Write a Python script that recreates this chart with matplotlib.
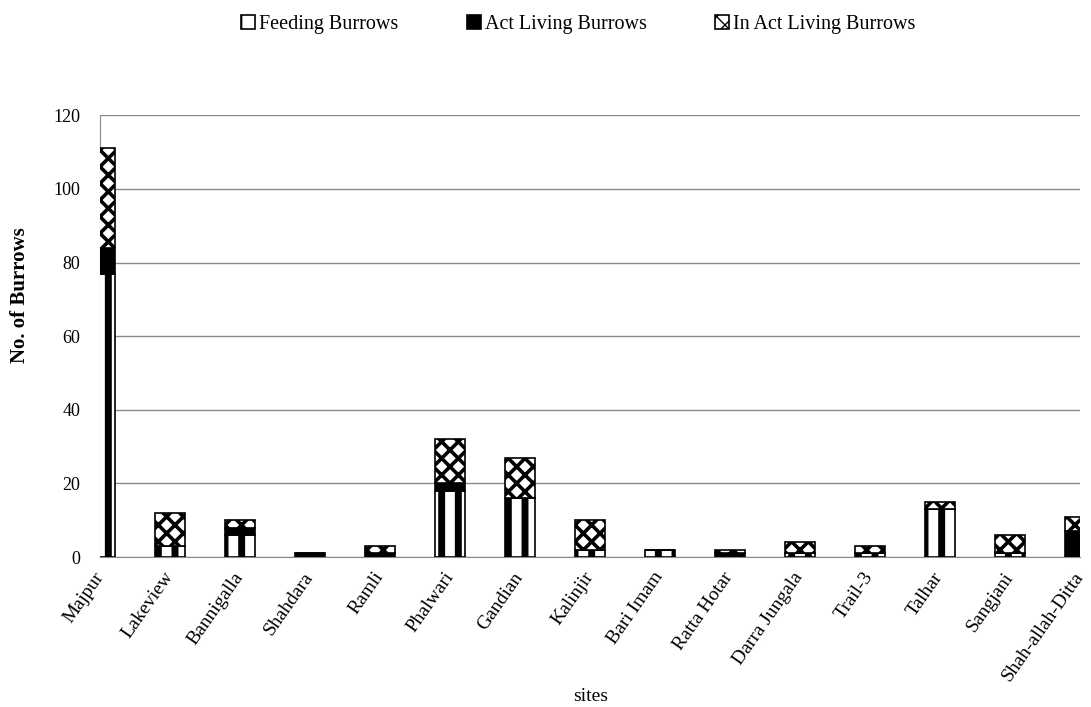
import matplotlib
matplotlib.use("Agg")
import matplotlib.pyplot as plt
import numpy as np

sites = ["Majpur", "Lakeview", "Bannigalla", "Shahdara", "Ramli", "Phalwari",
         "Gandian", "Kalinjir", "Bari Imam", "Ratta Hotar", "Darra Jungala",
         "Trail-3", "Talhar", "Sangjani", "Shah-allah-Ditta"]
feeding = [77, 3, 6, 0, 0, 18, 16, 2, 2, 0, 1, 1, 13, 1, 0]
act_living = [7, 0, 2, 1, 1, 2, 0, 0, 0, 1, 0, 0, 0, 0, 7]
inact_living = [27, 9, 2, 0, 2, 12, 11, 8, 0, 1, 3, 2, 2, 5, 4]
y_ticks = [0, 20, 40, 60, 80, 100, 120]

plt.rcParams["font.family"] = ["Liberation Serif", "DejaVu Serif"]
plt.rcParams["hatch.color"] = "black"

fig = plt.figure(figsize=(10.91, 7.07), dpi=100)
ax = fig.add_axes([0.0917, 0.212, 0.898, 0.625])

x = np.arange(len(sites))
w = 0.43
feeding = np.array(feeding)
act_living = np.array(act_living)
inact_living = np.array(inact_living)

with plt.rc_context({"hatch.linewidth": 5.0}):
    b1 = ax.bar(x, feeding, w, color="white", edgecolor="black",
                hatch="|", linewidth=1.2, label="Feeding Burrows", zorder=3)
b2 = ax.bar(x, act_living, w, bottom=feeding, color="black", edgecolor="black",
            linewidth=1.2, label="Act Living Burrows", zorder=3)
with plt.rc_context({"hatch.linewidth": 2.6}):
    b3 = ax.bar(x, inact_living, w, bottom=feeding + act_living, color="white",
                edgecolor="black", hatch="xx", linewidth=1.2,
                label="In Act Living Burrows", zorder=3)

ax.set_xlim(0, len(sites) - 1)
ax.set_ylim(0, 120)
ax.set_yticks(y_ticks)
ax.set_yticklabels([str(v) for v in y_ticks], fontsize=13)
ax.yaxis.grid(True, color="#8a8a8a", linewidth=1.0, zorder=0)
ax.set_axisbelow(True)
for s in ["top", "right"]:
    ax.spines[s].set_visible(False)
ax.spines["left"].set_color("#8a8a8a")
ax.spines["bottom"].set_color("#8a8a8a")
ax.tick_params(axis="y", length=0, pad=14)
ax.tick_params(axis="x", length=0, pad=12)
ax.set_xticks(x)
ax.set_xticklabels(sites, rotation=55, ha="right", va="center",
                   rotation_mode="anchor", fontsize=14)

ax.set_ylabel("No. of Burrows", fontsize=15, fontweight="bold")
ax.yaxis.set_label_coords(-0.072, 0.593)
fig.text(0.541, 0.003, "sites", ha="center", va="bottom", fontsize=14)

fig.legend(handles=[b1, b2, b3], loc="center", bbox_to_anchor=(0.53, 0.965),
           ncol=3, frameon=False, fontsize=14.5, handlelength=0.7,
           handleheight=0.7, handletextpad=0.2, columnspacing=3.4)

fig.savefig("out.png", dpi=100)
